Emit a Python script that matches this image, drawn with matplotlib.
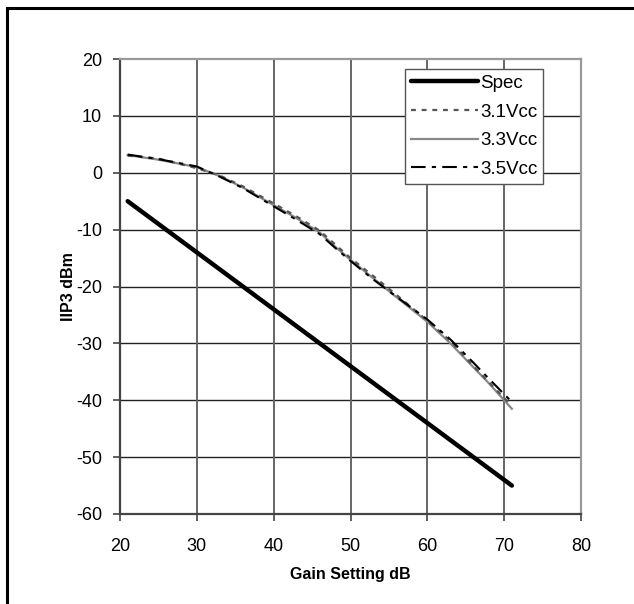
"""
IIP3 against gain setting for three supply voltages, with the spec line.
"""
import matplotlib
matplotlib.use("Agg")
import matplotlib.pyplot as plt
from matplotlib.patches import Rectangle

# Spec line end points
spec_gain = [21, 71]
spec_iip3 = [-5, -55]

gain = [21, 25, 30, 33, 36, 40, 43, 46, 48, 50, 53, 56, 60, 63, 66, 68, 71]
iip3_31 = [3.0, 2.5, 0.8, -0.5, -2.4, -5.4, -7.7, -10.2, -12.6, -15.0,
           -18.2, -21.5, -26.0, -29.6, -34.0, -36.8, -41.0]
iip3_33 = [3.1, 2.3, 1.0, -0.6, -2.6, -5.7, -8.0, -10.5, -13.0, -15.3,
           -18.6, -21.9, -26.2, -30.0, -34.2, -37.0, -41.5]
iip3_35 = [3.2, 2.4, 1.1, -0.7, -2.7, -5.9, -8.3, -10.8, -13.2, -15.5,
           -18.8, -21.8, -25.8, -29.3, -33.4, -36.2, -40.3]

x_ticks = [20, 30, 40, 50, 60, 70, 80]
y_ticks = [20, 10, 0, -10, -20, -30, -40, -50, -60]

plt.rcParams['font.family'] = ['Liberation Sans', 'DejaVu Sans']
plt.rcParams['axes.unicode_minus'] = False

W, H = 634, 604
fig = plt.figure(figsize=(W / 100, H / 100), dpi=100)
ax = fig.add_axes([120 / W, 1 - 514 / H, (581 - 120) / W, (514 - 59) / H])

# outer frame (only top and left edges show inside the picture)
fig.patches.append(Rectangle((7 / W, -0.1), 1.2, 1.1 - 7.5 / H,
                             transform=fig.transFigure, fill=False,
                             edgecolor='black', linewidth=2.2))

ax.plot(spec_gain, spec_iip3, color='black', linewidth=3.2,
        solid_capstyle='round', label='Spec', zorder=5)
ax.plot(gain, iip3_31, color='#555555', linewidth=1.6,
        linestyle=(0, (2.2, 2.6)), label='3.1Vcc', zorder=4)
ax.plot(gain, iip3_33, color='#888888', linewidth=1.6,
        label='3.3Vcc', zorder=3)
ax.plot(gain, iip3_35, color='black', linewidth=1.5,
        linestyle=(0, (7, 3, 2, 3)), label='3.5Vcc', zorder=4)

ax.set_xlim(20, 80)
ax.set_ylim(-60, 20)
ax.set_xticks(x_ticks)
ax.set_yticks(y_ticks)
ax.tick_params(direction='out', length=5, width=1.2, color='#444444',
               labelsize=13)
ax.tick_params(axis='x', pad=12)
ax.tick_params(axis='y', pad=8)

# horizontal grid darker than vertical
for yv in y_ticks[1:-1]:
    ax.axhline(yv, color='#222222', linewidth=1.0, zorder=1)
for xv in x_ticks[1:-1]:
    ax.axvline(xv, color='#666666', linewidth=1.4, zorder=1)

ax.spines['left'].set_color('#444444')
ax.spines['bottom'].set_color('#444444')
ax.spines['top'].set_color('#999999')
ax.spines['right'].set_color('#999999')
for sp in ax.spines.values():
    sp.set_linewidth(1.6)

ax.set_xlabel('Gain Setting dB', fontsize=11.5, fontweight='bold', labelpad=9)
ax.set_ylabel('IIP3 dBm', fontsize=11.5, fontweight='bold', labelpad=0)

leg = ax.legend(loc='upper right', bbox_to_anchor=(0.9176, 0.978),
                fontsize=13.5, handlelength=3.6, handletextpad=0.1,
                borderpad=0.3, labelspacing=0.62, fancybox=False,
                framealpha=1, borderaxespad=0)
leg.get_frame().set_edgecolor('#555555')
leg.get_frame().set_linewidth(1.0)

fig.savefig('out.png', dpi=100)
